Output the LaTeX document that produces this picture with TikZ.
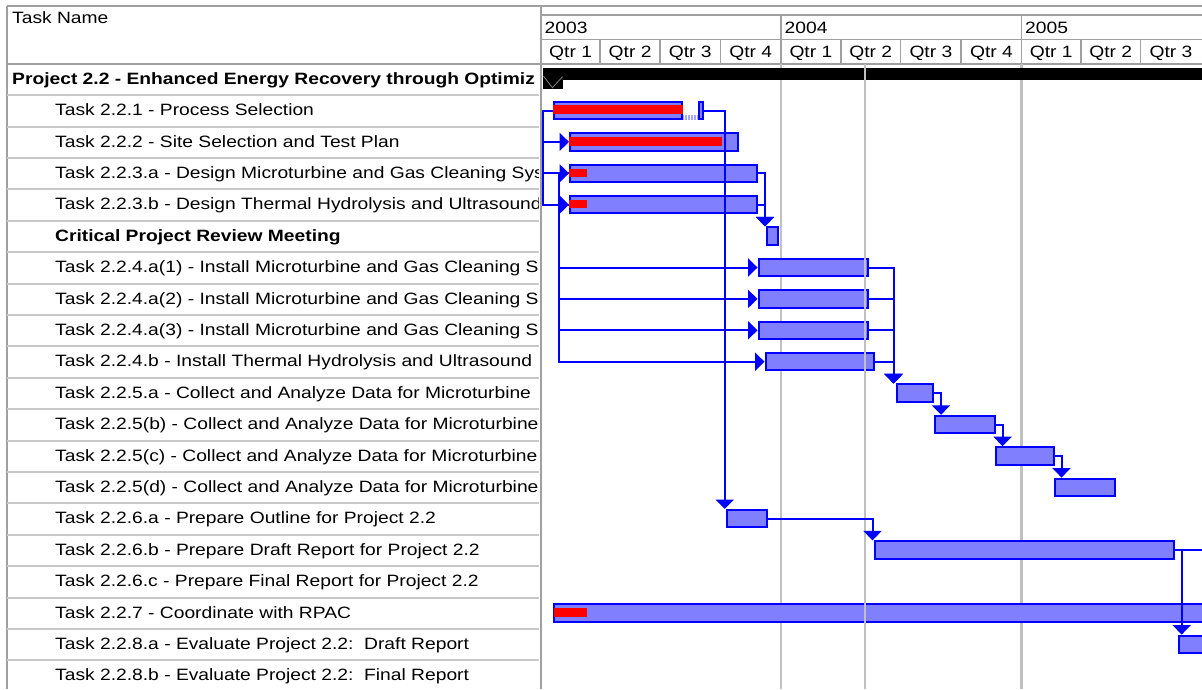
\documentclass[tikz,border=0pt]{standalone}
\usepackage{fontspec}
\setmainfont{Liberation Sans}[FakeStretch=1.173]
\usepackage{tikz}
\usetikzlibrary{arrows.meta, positioning, patterns}

\definecolor{barblue}{HTML}{0000FF}
\definecolor{barfill}{HTML}{8080FF}
\definecolor{rulegray}{HTML}{A0A0A0}
\definecolor{rowgray}{HTML}{C8C8C8}
\definecolor{gridgray}{HTML}{C0C0C0}

\begin{document}
\begin{tikzpicture}[
  x=1pt, y=-1pt,
  taskname/.style={anchor=base west, inner sep=0pt, font=\fontsize{16.4}{19}\selectfont},
  summary/.style={taskname, font=\fontsize{16.4}{19}\selectfont\bfseries},
  hdr/.style={anchor=base, inner sep=0pt, font=\fontsize{16.4}{19}\selectfont},
  rule/.style={draw=rulegray, line width=1.5pt},
  rowline/.style={draw=rowgray, line width=2pt},
  dateline/.style={draw=gridgray, line width=2.5pt},
  taskbar/.style={draw=barblue, fill=barfill, line width=2pt, inner sep=0pt, minimum height=17.4pt},
  done/.style={fill=red},
  link/.style={draw=barblue, line width=2pt, -{Triangle[length=9.5pt, width=18pt]}},
  linkline/.style={draw=barblue, line width=2pt}
]
  \useasboundingbox (0,0) rectangle (1202,689);

  % Table frame
  \draw[rule] (7,6) -- (1202,6);
  \draw[rule] (7,6) -- (7,689);
  \draw[rule] (7,63.8) -- (1202,63.8);
  \draw[rule] (541,15) -- (1202,15);
  \draw[rule] (541,39.5) -- (1202,39.5);
  \draw[rule] (781,15) -- (781,39.5) (1021.6,15) -- (1021.6,39.5);
  \draw[rule] (600.2,39.5) -- (600.2,63.8) (660,39.5) -- (660,63.8)
    (720.5,39.5) -- (720.5,63.8) (781,39.5) -- (781,63.8)
    (840.8,39.5) -- (840.8,63.8) (900.6,39.5) -- (900.6,63.8)
    (961.1,39.5) -- (961.1,63.8) (1021.6,39.5) -- (1021.6,63.8)
    (1080.8,39.5) -- (1080.8,63.8) (1140.6,39.5) -- (1140.6,63.8);
  \draw[rowline] (7,95.2) -- (539,95.2) (7,126.6) -- (539,126.6)
    (7,158.0) -- (539,158.0) (7,189.4) -- (539,189.4)
    (7,220.8) -- (539,220.8) (7,252.2) -- (539,252.2)
    (7,283.6) -- (539,283.6) (7,315.0) -- (539,315.0)
    (7,346.4) -- (539,346.4) (7,377.8) -- (539,377.8)
    (7,409.2) -- (539,409.2) (7,440.6) -- (539,440.6)
    (7,472.0) -- (539,472.0) (7,503.4) -- (539,503.4)
    (7,534.8) -- (539,534.8) (7,566.2) -- (539,566.2)
    (7,597.6) -- (539,597.6) (7,629.0) -- (539,629.0)
    (7,660.4) -- (539,660.4);
  \draw[rule, line width=2.5pt] (540.8,6) -- (540.8,689);

  % Timescale
  \node[taskname] (taskhdr) at (12,23.7) {Task Name};
  \node[taskname] (y2003) at (544.5,33.3) {2003};
  \node[taskname] (y2004) at (784.5,33.3) {2004};
  \node[taskname] (y2005) at (1025,33.3) {2005};
  \node[hdr] (q031) at (570.6,57.8) {Qtr 1};
  \node[hdr] (q032) at (630.1,57.8) {Qtr 2};
  \node[hdr] (q033) at (690.3,57.8) {Qtr 3};
  \node[hdr] (q034) at (750.8,57.8) {Qtr 4};
  \node[hdr] (q041) at (810.9,57.8) {Qtr 1};
  \node[hdr] (q042) at (870.7,57.8) {Qtr 2};
  \node[hdr] (q043) at (930.9,57.8) {Qtr 3};
  \node[hdr] (q044) at (991.4,57.8) {Qtr 4};
  \node[hdr] (q051) at (1051.2,57.8) {Qtr 1};
  \node[hdr] (q052) at (1110.7,57.8) {Qtr 2};
  \node[hdr] (q053) at (1170.9,57.8) {Qtr 3};

  % Task names
  \begin{scope}
    \clip (8,64) rectangle (538.5,689);
    \node[summary] (r0) at (12,84.2) {Project 2.2 - Enhanced Energy Recovery through Optimiz};
    \node[taskname] (r1) at (55,115.6) {Task 2.2.1 - Process Selection};
    \node[taskname] (r2) at (55,147.0) {Task 2.2.2 - Site Selection and Test Plan};
    \node[taskname] (r3) at (55,178.4) {Task 2.2.3.a - Design Microturbine and Gas Cleaning Sys};
    \node[taskname] (r4) at (55,209.8) {Task 2.2.3.b - Design Thermal Hydrolysis and Ultrasound};
    \node[summary] (r5) at (55,241.2) {Critical Project Review Meeting};
    \node[taskname] (r6) at (55,272.6) {Task 2.2.4.a(1) - Install Microturbine and Gas Cleaning S};
    \node[taskname] (r7) at (55,304.0) {Task 2.2.4.a(2) - Install Microturbine and Gas Cleaning S};
    \node[taskname] (r8) at (55,335.4) {Task 2.2.4.a(3) - Install Microturbine and Gas Cleaning S};
    \node[taskname] (r9) at (55,366.8) {Task 2.2.4.b - Install Thermal Hydrolysis and Ultrasound};
    \node[taskname] (r10) at (55,398.2) {Task 2.2.5.a - Collect and Analyze Data for Microturbine};
    \node[taskname] (r11) at (55,429.6) {Task 2.2.5(b) - Collect and Analyze Data for Microturbine};
    \node[taskname] (r12) at (55,461.0) {Task 2.2.5(c) - Collect and Analyze Data for Microturbine};
    \node[taskname] (r13) at (55,492.4) {Task 2.2.5(d) - Collect and Analyze Data for Microturbine};
    \node[taskname] (r14) at (55,523.8) {Task 2.2.6.a - Prepare Outline for Project 2.2};
    \node[taskname] (r15) at (55,555.2) {Task 2.2.6.b - Prepare Draft Report for Project 2.2};
    \node[taskname] (r16) at (55,586.6) {Task 2.2.6.c - Prepare Final Report for Project 2.2};
    \node[taskname] (r17) at (55,618.0) {Task 2.2.7 - Coordinate with RPAC};
    \node[taskname] (r18) at (55,649.4) {Task 2.2.8.a - Evaluate Project 2.2:\ \ Draft Report};
    \node[taskname] (r19) at (55,680.8) {Task 2.2.8.b - Evaluate Project 2.2:\ \ Final Report};
  \end{scope}

  % Chart
  \begin{scope}
    \clip (542,64.5) rectangle (1202,689);
    \draw[dateline] (781,64) -- (781,689);
    \draw[dateline] (1021.6,64) -- (1021.6,689);

    % Summary bar
    \node[fill=black, inner sep=0pt, minimum width=670pt, minimum height=12pt] (proj) at (877.7,74) {};
    \fill (proj.south west) rectangle ++(20.6,8.3);
    \draw[gray, line width=0.8pt] ([shift={(1,-4)}]proj.south west) -- ++(9,11.5) -- ++(10,-11);

    % Bars
    \node[taskbar, minimum width=128pt] (t221a) at (618,110.5) {};
    \fill[barfill!70] (683,114.5) rectangle (698,120);
    \fill[pattern=vertical lines, pattern color=white] (683,114.5) rectangle (698,120);
    \node[taskbar, minimum width=3.8pt] (t221b) at (700.6,110.5) {};
    \node[taskbar, minimum width=168pt] (t222) at (654,141.9) {};
    \node[taskbar, minimum width=187pt] (t223a) at (663.5,173.3) {};
    \node[taskbar, minimum width=187pt] (t223b) at (663.5,204.7) {};
    \node[taskbar, minimum width=11pt] (crit) at (772.5,236.1) {};
    \node[taskbar, minimum width=109.5pt] (t224a1) at (813.3,267.5) {};
    \node[taskbar, minimum width=109.5pt] (t224a2) at (813.3,298.9) {};
    \node[taskbar, minimum width=109.5pt] (t224a3) at (813.3,330.3) {};
    \node[taskbar, minimum width=108.5pt] (t224b) at (819.8,361.7) {};
    \node[taskbar, minimum width=36.5pt] (t225a) at (914.8,393.1) {};
    \node[taskbar, minimum width=59.5pt] (t225b) at (964.8,424.5) {};
    \node[taskbar, minimum width=57.5pt] (t225c) at (1024.8,455.9) {};
    \node[taskbar, minimum width=60pt] (t225d) at (1085,487.3) {};
    \node[taskbar, minimum width=40.3pt] (t226a) at (746.9,518.7) {};
    \node[taskbar, minimum width=299pt] (t226b) at (1024.5,550.1) {};
    \node[taskbar, minimum width=675pt] (t227) at (891.8,612.9) {};
    \node[taskbar, minimum width=50pt] (t228a) at (1204.2,644.3) {};

    % Progress
    \fill[done] (553,105) rectangle (683,114);
    \fill[done] (569,136.7) rectangle (722,145.5);
    \fill[done] (569,168.5) rectangle (587.3,177);
    \fill[done] (569,199.8) rectangle (587.3,208.3);
    \fill[done] (553.5,608) rectangle (587.3,617);

    \draw[dateline] (865,64) -- (865,689);

    % Links
    \coordinate (rightedge) at (1202,550.1);
    \draw[link] (t221a.west) -- ++(-10,0) |- (t222.west);
    \draw[link] (t221a.west) -- ++(-10,0) |- (t223a.west);
    \draw[link] (t221a.west) -- ++(-10,0) |- (t223b.west);
    \draw[link] (t223a.west) -- ++(-10,0) |- (t224a1.west);
    \draw[link] (t223a.west) -- ++(-10,0) |- (t224a2.west);
    \draw[link] (t223a.west) -- ++(-10,0) |- (t224a3.west);
    \draw[link] (t223b.west) -- ++(-10,0) |- (t224b.west);
    \draw[link] (t221b.east) -| ([xshift=-1pt]t226a.north west);
    \draw[link] (t223a.east) -| ([xshift=-1pt]crit.north west);
    \draw[link] (t223b.east) -| ([xshift=-1pt]crit.north west);
    \draw[link] (t224a1.east) -| ([xshift=-2pt]t225a.north west);
    \draw[link] (t224a2.east) -| ([xshift=-2pt]t225a.north west);
    \draw[link] (t224a3.east) -| ([xshift=-2pt]t225a.north west);
    \draw[link] (t224b.east) -| ([xshift=-2pt]t225a.north west);
    \draw[link] (t225a.east) -| ([xshift=7pt]t225b.north west);
    \draw[link] (t225b.east) -| ([xshift=7.5pt]t225c.north west);
    \draw[link] (t225c.east) -| ([xshift=7.5pt]t225d.north west);
    \draw[link] (t226a.east) -| ([xshift=-1.5pt]t226b.north west);
    \draw[link] (t226b.east) -| ([xshift=3.5pt]t228a.north west);
    \draw[linkline] (t226b.east) -- (rightedge);
  \end{scope}

\end{tikzpicture}
\end{document}
